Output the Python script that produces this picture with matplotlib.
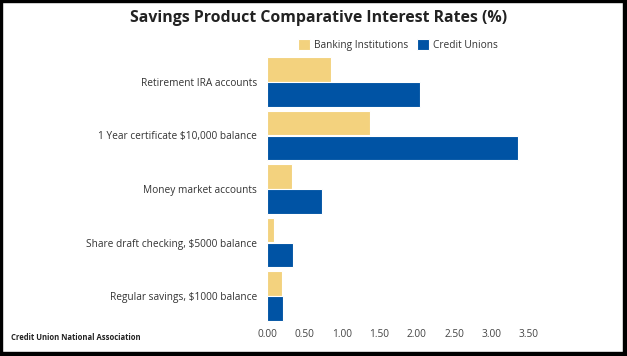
import matplotlib.pyplot as plt
from matplotlib.patches import Rectangle

# data
categories = ["Retirement IRA accounts",
              "1 Year certificate $10,000 balance",
              "Money market accounts",
              "Share draft checking, $5000 balance",
              "Regular savings, $1000 balance"]
banking = [0.86, 1.38, 0.34, 0.10, 0.20]
credit_unions = [2.05, 3.35, 0.74, 0.35, 0.21]
series_names = ["Banking Institutions", "Credit Unions"]
xticks = [0.0, 0.5, 1.0, 1.5, 2.0, 2.5, 3.0, 3.5]

W, H = 627, 356
plt.rcParams['font.family'] = ['Open Sans', 'DejaVu Sans']

fig = plt.figure(figsize=(W / 100, H / 100), dpi=100)
# axes box in pixels: x 267..529, y 55..323 (from top)
ax = fig.add_axes([267 / W, (H - 323) / H, (529 - 267) / W, (323 - 55) / H])

yel = '#F3D27E'
blue = '#0053A4'
pos = list(range(len(categories)))
off = 0.234
hgt = 0.46
ax.barh([p - off for p in pos], banking, height=hgt, color=yel,
        edgecolor='white', linewidth=0.8, label=series_names[0])
ax.barh([p + off for p in pos], credit_unions, height=hgt, color=blue,
        edgecolor='white', linewidth=0.8, label=series_names[1])

ax.set_ylim(len(categories) - 0.5, -0.5)
ax.set_xlim(0, 3.5)
ax.set_yticks(pos)
ax.set_yticklabels(categories, fontsize=7.3, color='#333333')
ax.set_xticks(xticks)
ax.set_xticklabels(['%.2f' % t for t in xticks], fontsize=7.3, color='#444444')
ax.tick_params(length=0)
ax.tick_params(axis='y', pad=7)
ax.tick_params(axis='x', pad=4)
for s in ax.spines.values():
    s.set_visible(False)

fig.text(319 / W, 1 - 18 / H, "Savings Product Comparative Interest Rates (%)",
         ha='center', va='center', fontsize=11.4, fontweight='bold', color='#222222')
fig.legend(loc='center', bbox_to_anchor=(398 / W, 1 - 45 / H), ncol=2, frameon=False,
           fontsize=7.3, handlelength=1.2, handleheight=1.2, handletextpad=0.4,
           columnspacing=0.9, labelcolor='#333333')
fig.text(11 / W, 1 - 338 / H, "Credit Union National Association",
         ha='left', va='center', fontsize=5.5, fontweight='bold', color='#222222')

# black frame around the image
for x0, y0, w, h in [(0, 0, 1.5, H), (W - 4, 0, 4, H), (0, 0, W, 4), (0, H - 2, W, 2)]:
    fig.patches.append(Rectangle((x0 / W, y0 / H), w / W, h / H, transform=fig.transFigure,
                                 color='black', zorder=10))

fig.savefig('out.png', dpi=100)
